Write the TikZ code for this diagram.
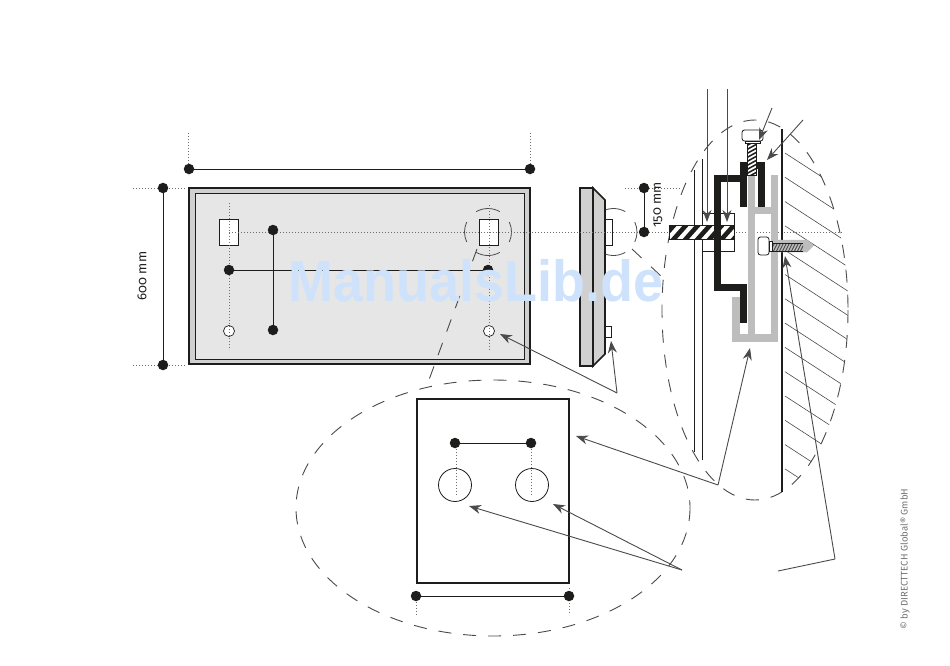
\documentclass[tikz,border=0pt]{standalone}
\usepackage{fontspec}
\setmainfont[Numbers=OldStyle]{Fira Sans}
\newfontfamily\markfont{Liberation Sans}
\usetikzlibrary{arrows.meta}

\definecolor{inkdark}{HTML}{1D1D1B}
\definecolor{leadgray}{HTML}{4A4A4A}
\definecolor{dotgray}{HTML}{6E6E6E}
\definecolor{panelgray}{HTML}{D0D0D0}
\definecolor{facegray}{HTML}{E6E6E6}
\definecolor{railgray}{HTML}{BDBDBD}
\definecolor{markblue}{HTML}{CFE2FB}

\tikzset{
  dimdot/.style={circle,fill=inkdark,inner sep=0pt,minimum size=10.5pt},
  holedot/.style={circle,draw=inkdark,fill=white,line width=0.7pt,inner sep=0pt,minimum size=11pt},
  bighole/.style={circle,draw=inkdark,line width=0.8pt,inner sep=0pt,minimum size=33pt},
  squarebox/.style={draw=inkdark,fill=white,line width=0.7pt,inner sep=0pt,minimum width=19pt,minimum height=26pt},
  dimline/.style={draw=inkdark,line width=0.9pt},
  dotline/.style={draw=dotgray,line width=0.8pt,dash pattern=on 1pt off 2pt},
  zoomline/.style={draw=leadgray,line width=0.9pt,dash pattern=on 13pt off 12pt},
  leader/.style={draw=leadgray,line width=0.9pt,-{Stealth[length=12pt,width=9pt]}},
  leadplain/.style={draw=leadgray,line width=0.9pt},
  thinline/.style={draw=inkdark,line width=0.8pt}
}

\begin{document}
\begin{tikzpicture}[x=1pt,y=-1pt]
      \useasboundingbox (0,0) rectangle (950,665);
      \fill [white] (0,0) rectangle (950,665);

      % front panel
      \draw [fill=panelgray,draw=inkdark,line width=2pt]
      (189,188) rectangle (530,364);
      \draw [fill=facegray,draw=inkdark,line width=0.8pt]
      (195,193) rectangle (524,359);

      \draw
      (229,232) node [squarebox] (sqleft) {}
      (489,232) node [squarebox] (sqright) {}
      (229,331) node [holedot] (holeleft) {}
      (489,331) node [holedot] (holeright) {};

      % marks round the fixing points
      \foreach \cx in {488,613.5} {
        \draw [draw=leadgray,line width=0.8pt]
        (\cx,232) ++(60:23.5) arc [start angle=60,end angle=120,radius=23.5];
        \draw [draw=leadgray,line width=0.8pt]
        (\cx,232) ++(-60:23.5) arc [start angle=-60,end angle=-120,radius=23.5];
        \draw [draw=leadgray,line width=0.8pt]
        (\cx,232) ++(25:23.5) arc [start angle=25,end angle=-25,radius=23.5];
        \draw [draw=leadgray,line width=0.8pt]
        (\cx,232) ++(155:23.5) arc [start angle=155,end angle=205,radius=23.5];
      }

      % side view
      \draw [fill=panelgray,draw=inkdark,line width=1.6pt]
      (593,188) -- (605,200) -- (605,354) -- (593,366) -- cycle;
      \draw [fill=panelgray,draw=inkdark,line width=1.6pt]
      (580,188) rectangle (593,366);
      \draw [thinline,fill=white] (605,219) rectangle (612,245);
      \draw [thinline,fill=white] (605,326) rectangle (611,337);

      \draw [dotline] (188,133) -- (188,175);
      \draw [dotline] (530,133) -- (530,175);
      \draw [dotline] (133,188) -- (185,188);
      \draw [dotline] (133,365) -- (185,365);
      \draw [dotline] (229,203) -- (229,350);
      \draw [dotline] (489,205) -- (489,350);
      \draw [dotline] (229,232) -- (843,232);
      \draw [dotline] (625,188) -- (680,188);

      \draw
      (189,169) node [dimdot] (widthl) {}
      (530,169) node [dimdot] (widthr) {}
      (163,188) node [dimdot] (heightt) {}
      (163,365) node [dimdot] (heightb) {}
      (273,230) node [dimdot] (pitcht) {}
      (273,330) node [dimdot] (pitchb) {}
      (229,270) node [dimdot] (spanl) {}
      (488,270) node [dimdot] (spanr) {}
      (644,188) node [dimdot] (offt) {}
      (644,232) node [dimdot] (offb) {};

      \draw [dimline] (widthl) -- (widthr);
      \draw [dimline] (heightt) -- (heightb);
      \draw [dimline] (pitcht) -- (pitchb);
      \draw [dimline] (spanl) -- (spanr);
      \draw [dimline] (offt) -- (offb);

      \node [rotate=90,text=inkdark,font=\fontsize{13}{13}\selectfont] (labelh) at (142,276) {600 mm};
      \node [rotate=90,text=inkdark,font=\fontsize{13}{13}\selectfont] (labelo) at (658,205) {150 mm};

      % zoom outlines
      \draw [zoomline] (755,310) ellipse [x radius=93,y radius=190];
      \draw [zoomline] (493,508) ellipse [x radius=197,y radius=128];
      \draw [zoomline] (477,249) -- (426,388);
      \draw [draw=leadgray,line width=0.9pt,dash pattern=on 13pt off 13pt] (632,249) -- (662,277);

      % wall
      \begin{scope}
        \clip (755,310) ellipse [x radius=93,y radius=190];
        \foreach \k in {0,...,13} {
          \draw [draw=leadgray,line width=0.6pt] (785,{153+24.3*\k}) -- ++(80,52);
        }
      \end{scope}
      \draw [draw=inkdark,line width=2.2pt] (782,129) -- (782,492);

      % glass lines
      \draw [thinline] (694,170) -- (694,452);
      \draw [thinline] (702,159) -- (702,460);

      % spacer
      \draw [thinline] (702,213) rectangle (734,251);
      \begin{scope}
        \clip (669,225) rectangle (734,239.5);
        \fill [white] (669,225) rectangle (734,239.5);
        \foreach \sx in {660,672,...,744} {
          \draw [draw=inkdark,line width=4.6pt] (\sx,241) -- ++(16,-18);
        }
      \end{scope}
      \draw [thinline] (669,225) rectangle (734,239.5);

      % rail
      \draw [draw=railgray,line width=7.5pt]
      (736,297) -- (736,338) -- (774.5,338) -- (774.5,175);
      \draw [draw=railgray,line width=7.5pt] (751.5,175) -- (751.5,338);
      \draw [draw=railgray,line width=7.5pt] (751.5,210.5) -- (774.5,210.5);

      % bracket
      \draw [draw=inkdark,line width=7pt]
      (743.5,207) -- (743.5,165.5) -- (761.5,165.5) -- (761.5,207);
      \draw [draw=inkdark,line width=7pt]
      (743.5,178) -- (717.5,178) -- (717.5,287) -- (743.5,287) -- (743.5,323);

      % top screw
      \begin{scope}
        \clip (747,143) rectangle (756,175);
        \fill [white] (747,143) rectangle (756,175);
        \foreach \sy in {142,146,...,182} {
          \draw [draw=inkdark,line width=1.5pt] (746,\sy) -- ++(11,-6);
        }
      \end{scope}
      \draw [thinline] (747,143) rectangle (756,175);
      \draw [thinline,fill=white,rounded corners=2.5pt] (742,130) rectangle (763,141);
      \draw [draw=inkdark,fill=white,line width=0.8pt] (745,141) rectangle (760,143.5);

      % wall screw
      \draw [fill=railgray,draw=railgray]
      (778,240) -- (807,240) -- (813.5,245.5) -- (807,252) -- (778,252) -- cycle;
      \begin{scope}
        \clip (773,243) rectangle (803,251);
        \foreach \sx in {770,773,...,806} {
          \draw [draw=leadgray,line width=0.9pt] (\sx,252) -- ++(5,-10);
        }
      \end{scope}
      \draw [thinline,fill=white,rounded corners=2.5pt] (758,237) rectangle (769,255);
      \draw [thinline,fill=white] (769,241) rectangle (772,251);
      \draw [thinline] (772,243) -- (803,243);
      \draw [thinline] (772,251) -- (803,251);

      % detail
      \draw [draw=inkdark,line width=2pt] (417,399) rectangle (569,583);
      \draw
      (455,485) node [bighole] (holea) {}
      (532,485) node [bighole] (holeb) {};
      \draw [dotline] (456.7,443) -- (456.7,495);
      \draw [dotline] (531.7,443) -- (531.7,495);
      \draw [dotline] (416,596) -- (416,615);
      \draw [dotline] (569,588) -- (569,615);
      \draw
      (455,443) node [dimdot] (pitcha) {}
      (531,443) node [dimdot] (pitchc) {}
      (416,596) node [dimdot] (basel) {}
      (569,596) node [dimdot] (baser) {};
      \draw [dimline] (pitcha) -- (pitchc);
      \draw [dimline] (basel) -- (baser);

      % leaders
      \coordinate (forka) at (617,393);
      \coordinate (forkb) at (718,485);
      \coordinate (forkc) at (682,570);
      \coordinate (bendd) at (835,559);
      \coordinate (startd) at (778,571);
      \coordinate (topa) at (707,89);
      \coordinate (topb) at (727,89);
      \coordinate (topc) at (772,108);
      \coordinate (topd) at (803,120);
      \coordinate (tipa) at (500,334);
      \coordinate (tipb) at (611,341);
      \coordinate (tipc) at (576,436);
      \coordinate (tipd) at (750,348);
      \coordinate (tipe) at (469,506);
      \coordinate (tipf) at (553,504);
      \coordinate (tipg) at (785,256);
      \coordinate (tiph) at (707,222);
      \coordinate (tipi) at (727,222);
      \coordinate (tipj) at (759,140);
      \coordinate (tipk) at (767,160);

      \draw [leader] (forka) -- (tipa);
      \draw [leader] (forka) -- (tipb);
      \draw [leader] (forkb) -- (tipc);
      \draw [leader] (forkb) -- (tipd);
      \draw [leader] (forkc) -- (tipe);
      \draw [leader] (forkc) -- (tipf);
      \draw [leadplain] (startd) -- (bendd);
      \draw [leader] (bendd) -- (tipg);
      \draw [leader] (topa) -- (tiph);
      \draw [leader] (topb) -- (tipi);
      \draw [leader] (topc) -- (tipj);
      \draw [leader] (topd) -- (tipk);

      \node [rotate=90,text=black!55,font=\fontsize{9.6}{10}\selectfont] (credit) at (905,559) {© by DIRECTTECH Global® GmbH};

      \node [text=markblue,xscale=0.93,font=\markfont\bfseries\fontsize{58}{58}\selectfont] (watermark) at (476,281) {ManualsLib.de};
\end{tikzpicture}
\end{document}
